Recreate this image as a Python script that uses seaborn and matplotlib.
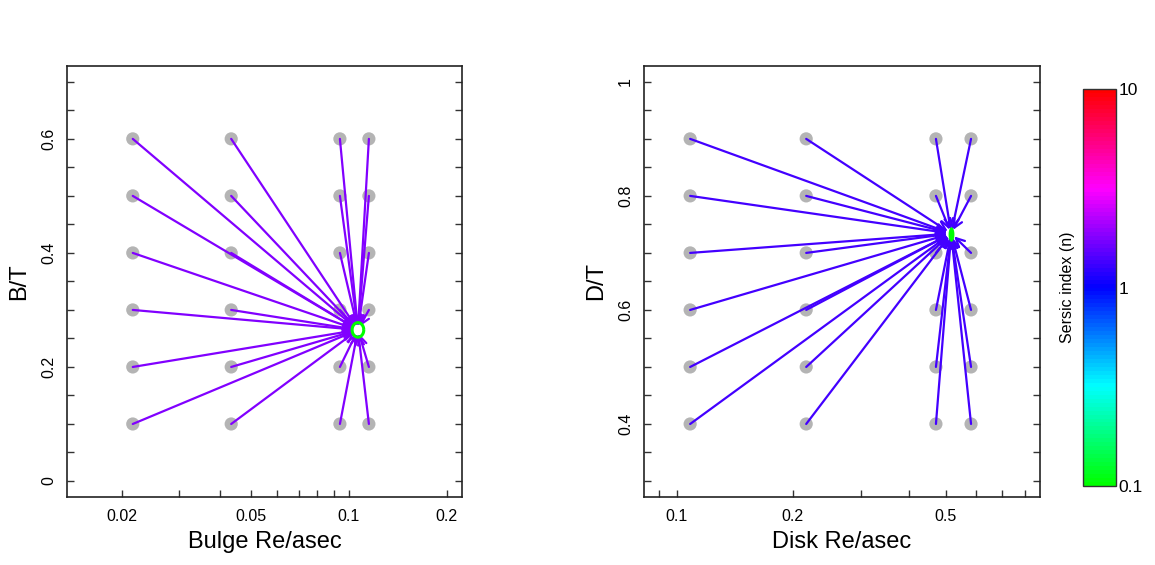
import numpy as np
import pandas as pd
import seaborn as sns
import matplotlib
import matplotlib.pyplot as plt
from matplotlib.colors import ListedColormap, LogNorm, hsv_to_rgb
from matplotlib.ticker import FixedLocator, NullFormatter

# grid of starting guesses
bulge_re = [0.0216, 0.0434, 0.0938, 0.1152]
bt_vals = [0.1, 0.2, 0.3, 0.4, 0.5, 0.6]
disk_re = [0.1083, 0.2168, 0.471, 0.581]
dt_vals = [0.4, 0.5, 0.6, 0.7, 0.8, 0.9]

# converged fit
bulge_final = (0.1066, 0.265)
disk_final = (0.516, 0.734)
bulge_n = 1.8
disk_n = 1.33
final_n = 0.1

sns.set_theme(style="ticks")
plt.rcParams['font.family'] = ['Liberation Sans', 'DejaVu Sans']
plt.rcParams['text.color'] = 'black'
plt.rcParams['axes.labelcolor'] = 'black'
plt.rcParams['xtick.labelcolor'] = 'black'
plt.rcParams['ytick.labelcolor'] = 'black'

# green -> cyan -> blue -> magenta -> red on log(n)
hues = np.linspace(120 / 360, 1.0, 100)
cmap = ListedColormap(hsv_to_rgb(np.column_stack([hues, np.ones(100), np.ones(100)])))
norm = LogNorm(0.1, 10)

fig = plt.figure(figsize=(11.55, 5.65), dpi=100)
ax1 = fig.add_axes([0.058, 0.1204, 0.342, 0.763])
ax2 = fig.add_axes([0.5576, 0.1204, 0.3429, 0.763])
cax = fig.add_axes([0.9377, 0.1398, 0.0286, 0.7027])

t = np.linspace(0, 2 * np.pi, 40)
ring = np.column_stack([0.8 * np.cos(t), np.sin(t)])
narrow = np.column_stack([0.4 * np.cos(t), np.sin(t)])


def panel(ax, xs, ys, final, n, xlab, ylab, xlim, ylim, xticks, xlabels, yticks, ylabels, disk):
    grid = pd.DataFrame([(x, y) for x in xs for y in ys], columns=['re', 'frac'])
    ax.set_xscale('log')
    sns.scatterplot(data=grid, x='re', y='frac', ax=ax, color='#B4B4B4', s=90,
                    edgecolor='none', zorder=2)
    col = cmap(norm(n))
    gcol = cmap(norm(final_n))
    for _, r in grid.iterrows():
        ax.annotate('', xy=final, xytext=(r['re'], r['frac']),
                    arrowprops=dict(arrowstyle='->,head_length=0.55,head_width=0.28',
                                    color=col, lw=1.6, shrinkA=0, shrinkB=3,
                                    mutation_scale=11), zorder=4)
    if disk:
        ax.scatter([final[0]], [final[1]], s=110, marker=narrow, color=gcol,
                   linewidths=0, zorder=5)
    else:
        ax.scatter([final[0]], [final[1]], s=110, marker=ring, facecolors='none',
                   edgecolors=gcol, linewidths=2.2, zorder=5)
    ax.set_xlim(xlim)
    ax.set_ylim(ylim)
    ax.xaxis.set_major_locator(FixedLocator(xticks))
    ax.set_xticklabels(xlabels)
    ax.xaxis.set_minor_formatter(NullFormatter())
    ax.yaxis.set_major_locator(FixedLocator(yticks))
    ax.set_yticklabels(ylabels, rotation=90, va='center')
    ax.tick_params(axis='both', which='both', direction='in', length=5, width=1,
                   labelsize=11.5, color='#333333')
    ax.tick_params(axis='y', which='both', right=True, pad=8)
    ax.tick_params(axis='x', which='both', top=False, pad=9)
    for s in ax.spines.values():
        s.set_linewidth(1.2)
        s.set_color('#222222')
    ax.set_xlabel(xlab, fontsize=17, labelpad=5)
    ax.set_ylabel(ylab, fontsize=17, labelpad=8)


bt_ticks = np.round(np.arange(0, 0.701, 0.05), 2)
panel(ax1, bulge_re, bt_vals, bulge_final, bulge_n, 'Bulge Re/asec', 'B/T',
      (0.01355, 0.2229), (-0.028, 0.728),
      [0.02, 0.03, 0.04, 0.05, 0.06, 0.07, 0.08, 0.09, 0.1, 0.2],
      ['0.02', '', '', '0.05', '', '', '', '', '0.1', '0.2'],
      bt_ticks, ['0' if abs(v) < 1e-9 else ('%g' % v if round(v * 100) % 20 == 0 else '') for v in bt_ticks],
      disk=False)

dt_ticks = np.round(np.arange(0.3, 1.001, 0.05), 2)
panel(ax2, disk_re, dt_vals, disk_final, disk_n, 'Disk Re/asec', 'D/T',
      (0.0822, 0.878), (0.272, 1.028),
      [0.09, 0.1, 0.2, 0.3, 0.4, 0.5, 0.6, 0.7, 0.8],
      ['', '0.1', '0.2', '', '', '0.5', '', '', ''],
      dt_ticks, ['%g' % v if round(v * 100) % 20 == 0 else '' for v in dt_ticks],
      disk=True)

sm = matplotlib.cm.ScalarMappable(norm=norm, cmap=cmap)
cb = fig.colorbar(sm, cax=cax)
cb.set_ticks([0.1, 1, 10])
cb.set_ticklabels(['0.1', '1', '10'])
cb.ax.minorticks_off()
cb.ax.tick_params(length=0, labelsize=12.5, pad=2, labelcolor='black')
cb.outline.set_linewidth(1)
cb.outline.set_edgecolor('#333333')
cax.yaxis.set_label_position('left')
cax.set_ylabel('Sersic index (n)', fontsize=11.5, labelpad=6)

fig.savefig('out.png', dpi=100)
